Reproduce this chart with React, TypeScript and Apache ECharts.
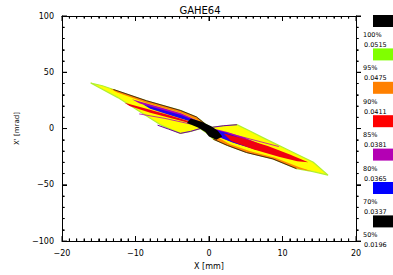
import React, { useEffect, useRef } from "react";
import * as echarts from "echarts";

const xTicks = [-20, -10, 0, 10, 20];
const yTicks = [-100, -50, 0, 50, 100];
const xMinorStep = 1;
const yMinorStep = 10;

const legendColors = ["#000000", "#80ff00", "#ff8000", "#ff0000", "#b400b4", "#0000ff", "#000000"];
const legendPercents = ["100%", "95%", "90%", "85%", "80%", "70%", "50%"];
const legendValues = ["0.0515", "0.0475", "0.0411", "0.0381", "0.0365", "0.0337", "0.0196"];

// contour polygons in data coordinates (x [mm], x' [mrad])
const yellowOuter = [
  [-16.1, 40.5], [-14.5, 38], [-13, 34.7], [-8.5, 24.7], [-3.9, 16.1], [-1.7, 10.3], [-0.5, 4],
  [0.3, 1], [2, 2.5], [3.8, 3.4], [5.5, -2], [7.4, -8.3], [11, -19.8], [14.2, -29.9], [16.2, -41.4],
  [14, -38], [11.9, -35.6], [8.7, -27], [5.1, -21.3], [2.5, -15], [0.6, -9.5], [-0.3, -4],
  [-1.2, 0], [-2.5, -2.5], [-3.9, -4.3], [-6.5, 3], [-8.7, 12], [-12.4, 27.5],
];
const leftOrange = [
  [-13.5, 35.5], [-13, 34.7], [-8.5, 24.7], [-3.9, 16.1], [-1.7, 10.3], [-0.5, 4],
  [-1.4, 7], [-3.8, 13.8], [-8.5, 22.6], [-12.5, 32],
];
const leftMagenta = [
  [-0.6, 3], [-1.5, 7], [-3.8, 13.6], [-6.5, 18.8], [-10.5, 26],
  [-9.5, 22.5], [-6.5, 16], [-3.6, 10], [-1.3, 4.5],
];
const leftBlue = [
  [-0.4, 2], [-1.6, 6], [-3.8, 12], [-6.5, 17], [-9, 21.5],
  [-8, 17.5], [-5.8, 13], [-3.4, 8], [-1.2, 3.5],
];
const leftRed = [
  [-11.5, 23], [-8.5, 17.5], [-5.5, 12], [-2.5, 6], [-0.5, 2],
  [-2, 3.8], [-5, 9], [-8, 14], [-10.8, 20],
];
const rightOrange = [
  [0.6, -9.5], [2.5, -15], [5.1, -21.3], [8.7, -27], [11.9, -35.6], [14, -38],
  [12.3, -34.3], [9, -26], [5.5, -20], [2.8, -13.8], [1, -7],
];
const rightMagenta = [
  [0.3, 0.5], [2.5, -3], [4.8, -8], [7, -14], [10, -21.5],
  [9.5, -24], [6.5, -18.5], [4, -14], [1.5, -8],
];
const rightBlue = [
  [0.3, 0], [2.5, -4], [4.5, -9], [6.5, -14.5], [8.5, -19.5],
  [7.5, -20.5], [5.5, -17], [3.2, -12.5], [1.2, -7],
];
const rightRed = [
  [2, -4.5], [4.8, -9], [8, -15.5], [11, -23], [13.5, -30],
  [12, -29], [9.5, -25], [6, -18.5], [3, -11],
];
const centerBlack = [
  [-2.5, 9], [-1, 6], [0.3, 2], [1.2, -2], [1.8, -7], [1, -10], [0, -7], [-0.5, -3], [-1.5, 1], [-3, 5],
];
const leftTopEdge = [[-13, 34.7], [-8.5, 24.7], [-3.9, 16.1], [-1.7, 10.3], [-0.5, 4]];
const leftBottomEdge = [[-7, 3], [-5.5, -0.5], [-3.9, -4.3], [-2.5, -2.5], [-1.2, 0]];
const rightBottomEdge = [[0.6, -9.5], [2.5, -15], [5.1, -21.3], [8.7, -27], [11.9, -35.6]];
const rightTopEdge = [[0.3, 1], [2, 2.5], [3.8, 3.4]];
const leftMidLine = [[-9.5, 13], [-6, 9], [-2.5, 4]];
const rightMidLine = [[9.5, -16], [6, -10], [2.5, -4]];

type Shape = { pts: number[][]; fill?: string; stroke?: string; width?: number; line?: boolean };

const shapes: Shape[] = [
  { pts: yellowOuter, fill: "#ffff00", stroke: "#b0f030", width: 1.2 },
  { pts: leftOrange, fill: "#ff8a00" },
  { pts: leftMagenta, fill: "#b000b0" },
  { pts: leftBlue, fill: "#2000f0" },
  { pts: leftRed, fill: "#f00010" },
  { pts: rightOrange, fill: "#ff8a00" },
  { pts: rightMagenta, fill: "#b000b0" },
  { pts: rightBlue, fill: "#2000f0" },
  { pts: rightRed, fill: "#f00010" },
  { pts: leftTopEdge, stroke: "#401018", width: 0.9, line: true },
  { pts: rightBottomEdge, stroke: "#401018", width: 0.9, line: true },
  { pts: leftBottomEdge, stroke: "#7000a0", width: 1, line: true },
  { pts: rightTopEdge, stroke: "#7000a0", width: 1, line: true },
  { pts: leftMidLine, stroke: "#b400b4", width: 0.8, line: true },
  { pts: rightMidLine, stroke: "#b400b4", width: 0.8, line: true },
  { pts: centerBlack, fill: "#000000" },
];

const fmt = (v: number) => String(v).replace("-", "\u2212");
const FONT = "DejaVu Sans";
const X_MIN = xTicks[0];
const X_MAX = xTicks[xTicks.length - 1];
const Y_MIN = yTicks[0];
const Y_MAX = yTicks[yTicks.length - 1];

// tick marks: anchor on an axis (data coordinates) plus a pixel direction
type Tick = { anchor: number[]; dx: number; dy: number };
const tickItems: Tick[] = [];
for (let v = X_MIN; v <= X_MAX + 1e-9; v += xMinorStep) {
  const len = xTicks.indexOf(Math.round(v)) >= 0 ? 5 : 2.5;
  tickItems.push({ anchor: [v, Y_MIN], dx: 0, dy: -len });
  tickItems.push({ anchor: [v, Y_MAX], dx: 0, dy: len });
}
for (let v = Y_MIN; v <= Y_MAX + 1e-9; v += yMinorStep) {
  const len = yTicks.indexOf(Math.round(v)) >= 0 ? 5 : 2.5;
  tickItems.push({ anchor: [X_MIN, v], dx: len, dy: 0 });
  tickItems.push({ anchor: [X_MAX, v], dx: len, dy: 0 });
}

// each visible axis sits "on zero" of a hidden helper axis whose zero lies on the grid edge
function axisLine(helperIndex: number) {
  return { show: true, onZero: true, onZeroAxisIndex: helperIndex, lineStyle: { color: "#000", width: 1 } };
}
function tick(inside: boolean) {
  return { show: true, inside, length: 5, lineStyle: { color: "#000", width: 1 } };
}
function minor(splitNumber: number) {
  return { show: true, splitNumber, length: 2.5, lineStyle: { color: "#000", width: 1 } };
}
function helper(min: number, max: number) {
  return {
    type: "value",
    show: false,
    min,
    max,
    axisLine: { show: false, onZero: false },
    axisTick: { show: false },
    axisLabel: { show: false },
    splitLine: { show: false },
  };
}

export default function App() {
  const ref = useRef<HTMLDivElement>(null);
  useEffect(() => {
    if (!ref.current) return;
    const chart = echarts.init(ref.current, null, { renderer: "svg" });
    const graphics: any[] = [
      {
        type: "text",
        x: 200,
        y: 10,
        style: { text: "GAHE64", fontSize: 10, fontFamily: FONT, fill: "#000", textAlign: "center", textVerticalAlign: "middle" },
      },
    ];
    legendColors.forEach((c, i) => {
      const y0 = 15 + i * 33.4;
      graphics.push({ type: "rect", shape: { x: 373, y: y0, width: 22, height: 12 }, style: { fill: c } });
      graphics.push({
        type: "text",
        x: 363,
        y: y0 + 20,
        style: { text: legendPercents[i], fontSize: 6.5, fontFamily: FONT, fill: "#000", textVerticalAlign: "middle" },
      });
      graphics.push({
        type: "text",
        x: 364,
        y: y0 + 30,
        style: { text: legendValues[i], fontSize: 6.5, fontFamily: FONT, fill: "#000", textVerticalAlign: "middle" },
      });
    });

    const total = shapes.length + tickItems.length;
    const items: number[][] = [];
    for (let i = 0; i < total; i++) items.push([i]);

    chart.setOption({
      animation: false,
      backgroundColor: "#fff",
      grid: { left: 62, right: 37, top: 16, bottom: 27, containLabel: false },
      xAxis: [
        {
          type: "value",
          position: "bottom",
          min: X_MIN,
          max: X_MAX,
          interval: 10,
          axisLine: axisLine(2),
          axisTick: tick(true),
          minorTick: minor(10),
          splitLine: { show: false },
          axisLabel: { color: "#000", fontSize: 8, fontFamily: FONT, margin: 8, formatter: fmt },
          name: "X [mm]",
          nameLocation: "middle",
          nameGap: 19,
          nameTextStyle: { color: "#000", fontSize: 8, fontFamily: FONT },
        },
        {
          type: "value",
          position: "top",
          min: X_MIN,
          max: X_MAX,
          interval: 10,
          axisLine: axisLine(3),
          axisTick: tick(true),
          minorTick: minor(10),
          splitLine: { show: false },
          axisLabel: { show: false },
        },
        helper(0, 1),
        helper(-1, 0),
      ],
      yAxis: [
        {
          type: "value",
          position: "left",
          min: Y_MIN,
          max: Y_MAX,
          interval: 50,
          axisLine: axisLine(2),
          axisTick: tick(true),
          minorTick: minor(5),
          splitLine: { show: false },
          axisLabel: { color: "#000", fontSize: 8, fontFamily: FONT, margin: 8, formatter: fmt },
          name: "X' [mrad]",
          nameLocation: "middle",
          nameGap: 42,
          nameRotate: 90,
          nameTextStyle: { color: "#000", fontSize: 7, fontFamily: FONT },
        },
        {
          type: "value",
          position: "right",
          min: Y_MIN,
          max: Y_MAX,
          interval: 50,
          axisLine: axisLine(3),
          axisTick: tick(false),
          minorTick: minor(5),
          splitLine: { show: false },
          axisLabel: { show: false },
        },
        helper(0, 1),
        helper(-1, 0),
      ],
      series: [
        {
          type: "custom",
          xAxisIndex: 0,
          yAxisIndex: 0,
          clip: false,
          silent: true,
          data: items,
          renderItem: (params: any, api: any) => {
            const idx = params.dataIndex;
            if (idx >= shapes.length) {
              const t = tickItems[idx - shapes.length];
              const p = api.coord(t.anchor);
              return {
                type: "polyline",
                shape: { points: [p, [p[0] + t.dx, p[1] + t.dy]] },
                style: { stroke: "#000", lineWidth: 1, fill: null },
              };
            }
            const s = shapes[idx];
            const points = s.pts.map((q) => api.coord(q));
            if (s.line) {
              return {
                type: "polyline",
                shape: { points },
                style: { stroke: s.stroke, lineWidth: s.width || 1, fill: null },
              };
            }
            return {
              type: "polygon",
              shape: { points },
              style: { fill: s.fill, stroke: s.stroke || null, lineWidth: s.width || 0 },
            };
          },
        },
      ],
      graphic: graphics,
    });
    return () => chart.dispose();
  }, []);
  return <div ref={ref} style={{ position: "fixed", left: 0, top: 0, width: 393, height: 275 }} />;
}
